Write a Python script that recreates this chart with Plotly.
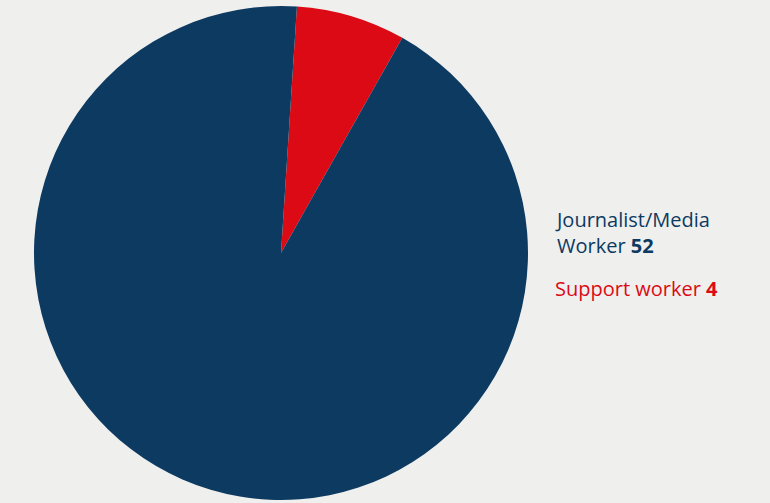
import plotly.graph_objects as go

categories = ["Support worker", "Journalist/Media Worker"]
values = [4, 52]
colors = ["#dc0a14", "#0d3a61"]

W, H = 770, 503
cx, cy, r = 281, 253, 247

fig = go.Figure(go.Pie(
    labels=categories,
    values=values,
    marker=dict(colors=colors, line=dict(width=0)),
    textinfo="none",
    hoverinfo="label+value",
    sort=False,
    direction="clockwise",
    rotation=3.7,
    domain=dict(x=[(cx - r) / W, (cx + r) / W], y=[(H - cy - r) / H, (H - cy + r) / H]),
    showlegend=False,
))

font = "'Open Sans', sans-serif"
fig.add_annotation(
    x=554 / W, y=1 - 232 / H, xref="paper", yref="paper", xanchor="left", yanchor="middle",
    align="left", showarrow=False, borderpad=0,
    text=f"Journalist/Media<br>Worker <b>{values[1]}</b>",
    font=dict(family=font, size=20, color=colors[1]),
)
fig.add_annotation(
    x=554 / W, y=1 - 288 / H, xref="paper", yref="paper", xanchor="left", yanchor="middle",
    align="left", showarrow=False, borderpad=0,
    text=f"{categories[0]} <b>{values[0]}</b>",
    font=dict(family=font, size=20, color=colors[0]),
)

fig.update_layout(
    width=W, height=H,
    margin=dict(l=0, r=0, t=0, b=0),
    paper_bgcolor="#efefee",
    plot_bgcolor="#efefee",
)
fig.write_html(
    "out.html",
    config={"displayModeBar": False},
    post_script="document.body.style.margin='0';document.body.style.overflow='hidden';document.body.style.background='#efefee';",
)
